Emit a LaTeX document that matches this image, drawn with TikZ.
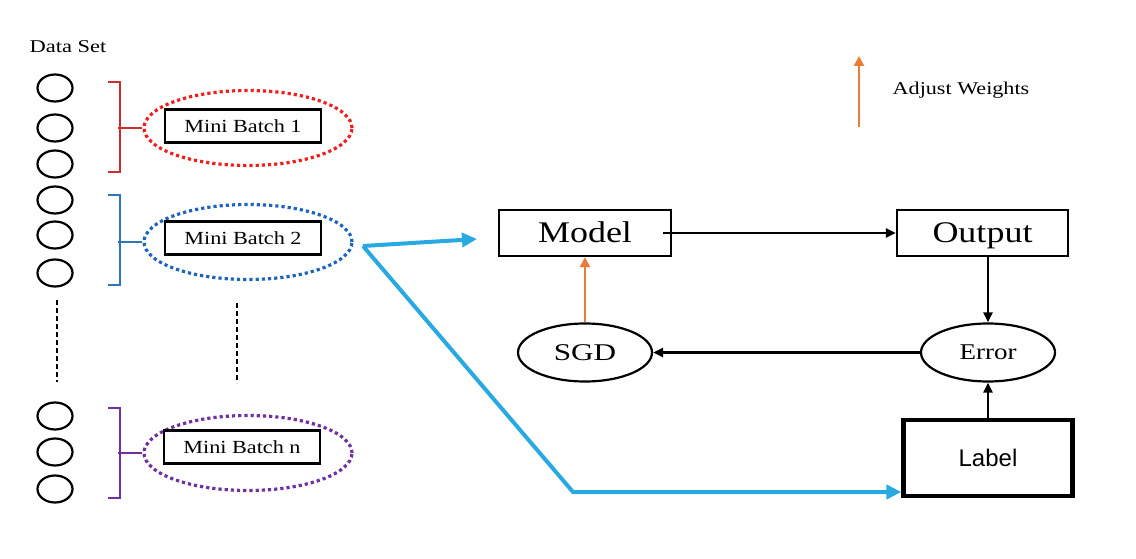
\documentclass[tikz,border=0pt]{standalone}
\usepackage{fontspec}
\usepackage{graphicx}
\setmainfont{Liberation Serif}
\setsansfont{Liberation Sans}
\usetikzlibrary{shapes.geometric,arrows.meta,calc}

\definecolor{batchred}{RGB}{240,30,30}
\definecolor{bracketred}{RGB}{205,45,45}
\definecolor{batchblue}{RGB}{30,100,190}
\definecolor{bracketblue}{RGB}{46,117,182}
\definecolor{batchpurple}{RGB}{112,48,160}
\definecolor{flowblue}{RGB}{41,169,226}
\definecolor{adjorange}{RGB}{232,125,55}

% wide serif lettering
\newcommand{\wtext}[2][1.2]{\scalebox{#1}[1]{#2}}

\begin{document}
\begin{tikzpicture}[x=1pt,y=-1pt,
  sample/.style={draw,line width=2.2pt,ellipse,minimum width=35pt,minimum height=27pt,inner sep=0pt},
  batchring/.style={draw,ellipse,line width=3.2pt,dash pattern=on 3.2pt off 3pt,minimum width=208pt,minimum height=75pt,inner sep=0pt},
  batchbox/.style={draw,line width=2.2pt,minimum width=156pt,minimum height=33pt,inner sep=0pt,font=\fontsize{18.5}{20}\selectfont},
  brace/.style={line width=2.4pt},
  dots/.style={line width=2.8pt,dash pattern=on 5pt off 3pt},
  flowbox/.style={draw,line width=2.2pt,minimum height=46pt,inner sep=0pt,
    text height=20pt,text depth=0pt,font=\fontsize{30}{32}\selectfont},
  flowoval/.style={draw,line width=2.2pt,ellipse,minimum width=134pt,minimum height=58pt,inner sep=0pt},
  flowarrow/.style={line width=2.2pt,-{Triangle[length=10pt,width=9pt]}},
  adjarrow/.style={line width=2.6pt,adjorange,-{Triangle[length=10pt,width=10pt]}},
  bluepath/.style={line width=4pt,flowblue,-{Triangle[length=15pt,width=14pt]}}
]
\useasboundingbox (0,0) rectangle (1136,559);

% data set and its samples
\node (ds) at (68,47) {\fontsize{18}{20}\selectfont\wtext[1.25]{Data Set}};
\foreach \n/\yy in {1/88,2/128,3/164,4/200,5/235,6/273,7/416,8/452,9/489}
  \node[sample] (c\n) at (55,\yy) {};

\draw[dots] (57,300) -- (57,382);
\draw[dots] (237,303) -- (237,383);

% mini batches
\node[batchring,batchred] (e1) at (248,128) {};
\node[batchbox] (b1) at (243,126) {\wtext{Mini Batch 1}};
\node[batchring,batchblue] (e2) at (248,242) {};
\node[batchbox] (b2) at (243,238) {\wtext{Mini Batch 2}};
\node[batchring,batchpurple] (e3) at (248,453) {};
\node[batchbox] (b3) at (242,447) {\wtext{Mini Batch n}};

% brackets grouping samples
\draw[brace,bracketred] (108,82) -- (120,82) -- (120,172) -- (108,172);
\draw[brace,bracketred] (e1.west) -- ++(-24,0);
\draw[brace,bracketblue] (108,195) -- (120,195) -- (120,285) -- (108,285);
\draw[brace,bracketblue] (e2.west) -- ++(-24,0);
\draw[brace,batchpurple] (108,408) -- (120,408) -- (120,498) -- (108,498);
\draw[brace,batchpurple] (e3.west) -- ++(-24,0);

% training loop
\node[flowbox,minimum width=172pt] (model) at (585,233) {\wtext{Model}};
\node[flowbox,minimum width=171pt] (output) at (982.5,233) {\wtext{Output}};
\node[flowoval] (sgd) at (585,352.5) {\fontsize{24}{26}\selectfont\wtext[1.3]{SGD}};
\node[flowoval] (error) at (988,352.5) {\fontsize{22.5}{24}\selectfont\wtext{Error}};
\node[draw,line width=4.2pt,minimum width=169pt,minimum height=76pt,inner sep=0pt,
      font=\sffamily\fontsize{24}{26}\selectfont] (label) at (988,458) {Label};

\draw[flowarrow] ($(model.east)+(-9,0)$) -- (output.west);
\draw[flowarrow] (error.north |- output.south) -- (error.north);
\draw[flowarrow] (label.north) -- (error.south);
\draw[flowarrow] (error.west) -- (sgd.east);
\draw[adjarrow] (sgd.north) -- (model.south);

% legend
\coordinate (aw1) at (859,127);
\coordinate (aw2) at (859,56);
\draw[adjarrow] (aw1) -- (aw2);
\node (awtext) at (961,90) {\fontsize{18}{20}\selectfont\wtext[1.23]{Adjust Weights}};

% data flow from the chosen batch
\coordinate (bs) at (363,246);
\coordinate (bm) at (477,239);
\coordinate (bc) at (573,492);
\draw[bluepath] (bs) -- (bm);
\draw[bluepath,line join=miter] (bs) -- (bc) -- (label.west |- bc);
\end{tikzpicture}
\end{document}
